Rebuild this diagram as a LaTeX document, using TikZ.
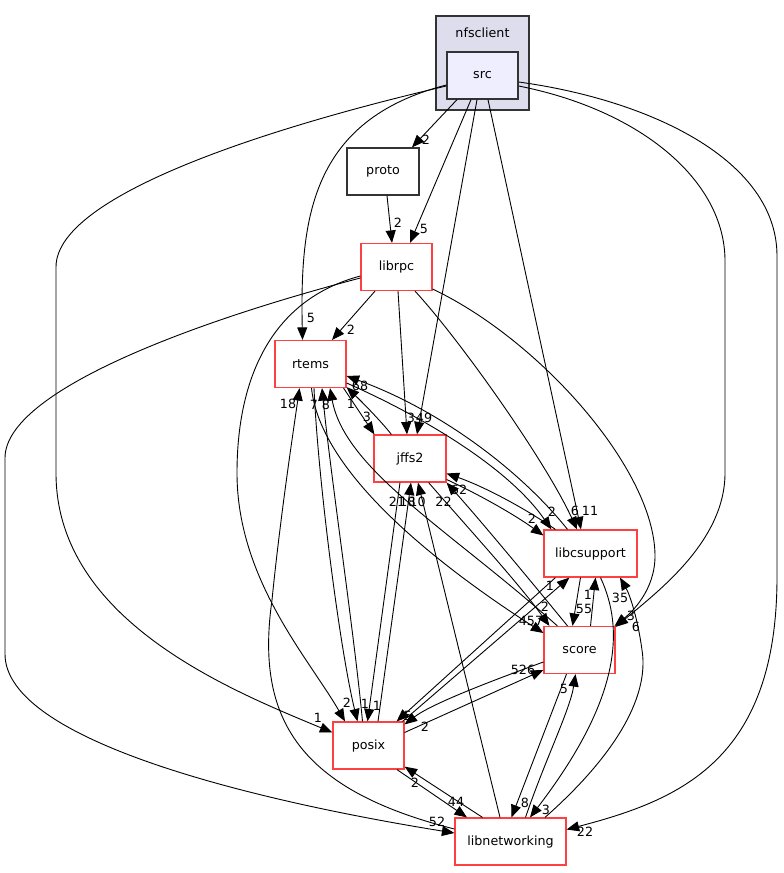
\documentclass[tikz,border=0pt]{standalone}
\usepackage{fontspec}
\setmainfont{DejaVu Sans}
\usetikzlibrary{arrows.meta,calc}
\definecolor{nodered}{RGB}{255,64,64}
\definecolor{clusterfill}{RGB}{221,221,238}
\definecolor{srcfill}{RGB}{238,238,255}
\definecolor{darkline}{RGB}{51,51,51}
\begin{document}
\begin{tikzpicture}[x=1pt,y=-1pt,
  dirbox/.style={draw=nodered,line width=1.2pt,fill=white,minimum width=#1,minimum height=47pt,inner sep=0pt,font=\fontsize{12.7}{14}\selectfont},
  dirbox/.default=71pt,
  graybox/.style={draw=darkline,line width=1.3pt,minimum width=#1,minimum height=47pt,inner sep=0pt,font=\fontsize{12.7}{14}\selectfont},
  graybox/.default=71pt,
  dep/.style={draw=black,line width=0.9pt,-{Triangle[length=12.5pt,width=10pt]}},
  lbl/.style={font=\fontsize{12.7}{14}\selectfont,inner sep=0pt}
]
\useasboundingbox (0,0) rectangle (784,873);
\fill[white] (0,0) rectangle (784,873);

% cluster and nodes
\node[draw=darkline,line width=1.3pt,fill=clusterfill,minimum width=93pt,minimum height=94pt,inner sep=0pt] (cluster) at (482.5,63) {};
\node[lbl] (clusterlabel) at (482.5,33) {nfsclient};
\node[graybox,fill=srcfill] (src) at (482.5,75.5) {src};
\node[graybox=72pt,fill=white] (proto) at (383,171.5) {proto};
\node[dirbox] (librpc) at (396.5,267) {librpc};
\node[dirbox] (rtems) at (310.5,364) {rtems};
\node[dirbox=72pt] (jffs2) at (410,458.5) {jffs2};
\node[dirbox=93pt] (libcsupport) at (590.5,553.5) {libcsupport};
\node[dirbox] (score) at (579.5,650) {score};
\node[dirbox] (posix) at (368.5,745.5) {posix};
\node[dirbox=111pt] (libnetworking) at (510.5,841.5) {libnetworking};

% edges from src
\draw[dep] ($(src.south)+(-25.5,0)$) -- ($(proto.north)+(29,0)$);
\draw[dep] ($(src.south)+(-11.5,0)$) -- ($(librpc.north)+(13.5,0)$);
\draw[dep] ($(src.south)+(-5.5,0)$) -- ($(jffs2.north)+(7,0)$);
\draw[dep] ($(src.south)+(5.5,0)$) -- ($(libcsupport.north)+(-9.5,0)$);
\draw[dep] ($(src.west)+(0,9.5)$) .. controls (310,120) and (300,220) .. ($(rtems.north)+(-8,0)$);
\draw[dep] ($(src.west)+(0,10.5)$) .. controls (300,120) and (56,190) .. (56,267) -- (56,473) .. controls (56,620) and (230,690) .. ($(posix.west)+(0,-13)$);
\draw[dep] ($(src.east)+(0,10.5)$) .. controls (640,110) and (725,180) .. (725,261) -- (725,473) .. controls (725,540) and (660,590) .. ($(score.north east)+(0,1)$);
\draw[dep] ($(src.east)+(0,6.5)$) .. controls (650,100) and (777,160) .. (777,256) -- (777,577) .. controls (777,760) and (680,800) .. ($(libnetworking.east)+(0,-12)$);

% proto
\draw[dep] ($(proto.south)+(4,0)$) -- ($(librpc.north)+(-4.5,0)$);

% librpc
\draw[dep] ($(librpc.south)+(-21.5,0)$) -- ($(rtems.north)+(21.5,0)$);
\draw[dep] ($(librpc.south)+(1.5,0)$) -- ($(jffs2.north)+(-3,0)$);
\draw[dep] ($(librpc.south)+(18.5,0)$) .. controls (460,340) and (545,460) .. ($(libcsupport.north)+(-13.5,0)$);
\draw[dep] ($(librpc.east)+(0,22)$) .. controls (540,340) and (655,470) .. (655,556) .. controls (655,590) and (632,612) .. ($(score.north east)+(-1,0)$);
\draw[dep] ($(librpc.west)+(0,9)$) .. controls (270,300) and (237,380) .. (237,473) .. controls (237,580) and (310,660) .. ($(posix.north)+(-23.5,0)$);
\draw[dep] ($(librpc.west)+(0,11)$) .. controls (200,320) and (5,390) .. (5,458) -- (5,654) .. controls (5,740) and (250,800) .. ($(libnetworking.west)+(0,-8.5)$);

% rtems / jffs2
\draw[dep] ($(rtems.south east)+(-3,0)$) -- ($(jffs2.north west)+(1,0)$);
\draw[dep] ($(jffs2.north west)+(18,0)$) .. controls (380,420) and (360,400) .. ($(rtems.south east)+(0,-1)$);
\draw[dep] ($(rtems.east)+(0,19)$) .. controls (430,420) and (510,470) .. ($(libcsupport.north west)+(8,0)$);
\draw[dep] ($(libcsupport.north)+(-23,0)$) .. controls (520,470) and (440,410) .. ($(rtems.east)+(0,12)$);
\draw[dep] ($(rtems.south)+(1,0)$) .. controls (320,470) and (430,560) .. ($(score.west)+(0,-17)$);
\draw[dep] ($(score.north west)+(14,0)$) .. controls (450,530) and (345,470) .. ($(rtems.south)+(19.5,0)$);
\draw[dep] ($(libcsupport.north west)+(12,0)$) .. controls (520,505) and (480,485) .. ($(jffs2.east)+(0,15)$);
\draw[dep] ($(jffs2.east)+(0,21)$) .. controls (480,495) and (515,515) .. ($(libcsupport.west)+(0,-18)$);

% jffs2 / posix / libnetworking
\draw[dep] ($(jffs2.south)+(-10,0)$) -- ($(posix.north)+(-1,0)$);
\draw[dep] ($(posix.north)+(9.5,0)$) -- ($(jffs2.south)+(1,0)$);
\draw[dep] ($(libnetworking.north)+(-10.5,0)$) -- ($(jffs2.south)+(8,0)$);
\draw[dep] ($(rtems.south)+(3.5,0)$) .. controls (318,480) and (340,650) .. ($(posix.north)+(-11,0)$);
\draw[dep] ($(posix.north)+(-6,0)$) .. controls (355,640) and (330,470) .. ($(rtems.south)+(11.5,0)$);
\draw[dep] ($(libnetworking.west)+(0,-12.5)$) .. controls (300,790) and (255,720) .. (272,600) .. controls (280,520) and (292,440) .. ($(rtems.south)+(-11,0)$);

\draw[dep] ($(posix.south)+(28.5,0)$) -- ($(libnetworking.north)+(-43.5,0)$);
\draw[dep] ($(libnetworking.north)+(-28,0)$) -- ($(posix.south east)+(0,-3)$);
\draw[dep] ($(posix.east)+(0,-13)$) -- ($(score.west)+(0,20)$);
\draw[dep] ($(score.west)+(0,12)$) .. controls (480,685) and (430,705) .. ($(posix.north east)+(0,3)$);
\draw[dep] ($(libcsupport.south west)+(12,0)$) -- ($(posix.north east)+(-8,0)$);
\draw[dep] ($(posix.north east)+(-2,0)$) -- ($(libcsupport.south west)+(26,0)$);

% score / libcsupport / libnetworking
\draw[dep] ($(libcsupport.south)+(-10,0)$) -- ($(score.north)+(-7,0)$);
\draw[dep] ($(score.north)+(11,0)$) -- ($(libcsupport.south)+(5,0)$);
\draw[dep] ($(jffs2.south east)+(-18,0)$) .. controls (470,530) and (520,585) .. ($(score.north west)+(6,0)$);
\draw[dep] ($(score.north)+(-12,0)$) .. controls (530,580) and (480,520) .. (jffs2.south east);
\draw[dep] ($(score.south)+(-13,0)$) -- ($(libnetworking.north)+(1,0)$);
\draw[dep] ($(libnetworking.north)+(15,0)$) .. controls (545,760) and (570,710) .. ($(score.south)+(-4,0)$);
\draw[dep] ($(libcsupport.south)+(10,0)$) .. controls (625,630) and (620,700) .. ($(libnetworking.north)+(19.5,0)$);
\draw[dep] ($(libnetworking.north)+(34.5,0)$) .. controls (610,760) and (650,700) .. (642,650) .. controls (638,620) and (630,595) .. ($(libcsupport.south)+(29.5,0)$);

% labels
\node[lbl] (l1) at (426,140) {2};
\node[lbl] (l2) at (398,223) {2};
\node[lbl] (l3) at (424,229) {5};
\node[lbl] (l4) at (311,318) {5};
\node[lbl] (l5) at (351,330) {2};
\node[lbl] (l6) at (360,386) {68};
\node[lbl] (l7) at (288,404) {18};
\node[lbl] (l8) at (314,405) {7};
\node[lbl] (l9) at (326,405) {8};
\node[lbl] (l10) at (351,404) {1};
\node[lbl] (l11) at (367,417) {3};
\node[lbl] (l12) at (411,418) {3};
\node[lbl] (l13) at (424,418) {49};
\node[lbl] (l14) at (397,502) {21};
\node[lbl] (l15) at (407.5,502) {18};
\node[lbl] (l16) at (417.5,502) {10};
\node[lbl] (l17) at (443.5,502) {22};
\node[lbl] (l18) at (459,490) {62};
\node[lbl] (l19) at (532,519) {2};
\node[lbl] (l20) at (552,512) {2};
\node[lbl] (l21) at (575,511) {6};
\node[lbl] (l22) at (590,511) {11};
\node[lbl] (l23) at (550,586) {1};
\node[lbl] (l24) at (588,595) {1};
\node[lbl] (l25) at (584,609) {55};
\node[lbl] (l26) at (620,598) {35};
\node[lbl] (l27) at (545,607) {2};
\node[lbl] (l28) at (531,621) {457};
\node[lbl] (l29) at (631,616) {3};
\node[lbl] (l30) at (636,627) {6};
\node[lbl] (l31) at (523,670) {526};
\node[lbl] (l32) at (564,689) {5};
\node[lbl] (l33) at (347,703) {2};
\node[lbl] (l34) at (365,704) {1};
\node[lbl] (l35) at (377,706) {1};
\node[lbl] (l36) at (408,716) {5};
\node[lbl] (l37) at (425,727) {2};
\node[lbl] (l38) at (318,718) {1};
\node[lbl] (l39) at (415,783) {2};
\node[lbl] (l40) at (456,802) {44};
\node[lbl] (l41) at (437,822) {52};
\node[lbl] (l42) at (525,803) {8};
\node[lbl] (l43) at (546,810) {3};
\node[lbl] (l44) at (585,832) {22};
\end{tikzpicture}
\end{document}
